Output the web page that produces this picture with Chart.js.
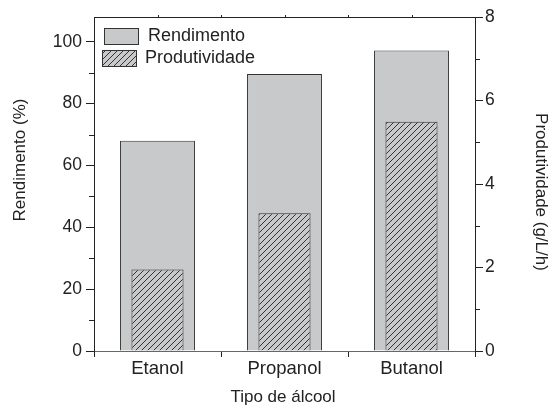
<!DOCTYPE html>
<html>
<head>
<meta charset="utf-8">
<script src="https://cdn.jsdelivr.net/npm/chart.js@4.4.0/dist/chart.umd.min.js"></script>
<style>
  html, body { margin: 0; padding: 0; background: #fff; }
  #wrap { width: 552px; height: 407px; }
</style>
</head>
<body>
<div id="wrap"><canvas id="barChart" width="552" height="407"></canvas></div>
<script>
// data
const categories = ['Etanol', 'Propanol', 'Butanol'];
const rendimento = [68, 89.6, 97.2];       // %
const produtividade = [1.95, 3.3, 5.49];  // g/L/h
const leftTicksMinor = [10, 30, 50, 70, 90];
const rightTicksMinor = [1, 3, 5, 7];

const FONT = '"Liberation Sans", Arial, sans-serif';
const INK = '#222';
const GRAY = '#c8c9cb';

// diagonal hatch pattern
function makeHatch() {
    const c = document.createElement('canvas');
    c.width = 6; c.height = 6;
    const g = c.getContext('2d');
    g.fillStyle = GRAY;
    g.fillRect(0, 0, 6, 6);
    g.strokeStyle = '#333';
    g.lineWidth = 1;
    g.beginPath();
    g.moveTo(0, 6); g.lineTo(6, 0);
    g.moveTo(-1, 1); g.lineTo(1, -1);
    g.moveTo(5, 7); g.lineTo(7, 5);
    g.stroke();
    return g.createPattern(c, 'repeat');
}
const hatch = makeHatch();

// frame, minor ticks, titles, legend
const extras = {
    id: 'extras',
    afterDraw(chart) {
        const ctx = chart.ctx;
        const a = chart.chartArea;
        const y = chart.scales.y, y1 = chart.scales.y1;
        ctx.save();
        ctx.strokeStyle = INK;
        ctx.lineWidth = 1;
        ctx.beginPath();
        ctx.moveTo(a.left, a.top + 0.5); ctx.lineTo(a.right, a.top + 0.5);
        // top ticks at half categories
        const step = (a.right - a.left) / (categories.length * 2);
        for (let i = 1; i < categories.length * 2; i++) {
            const px = Math.round(a.left + i * step) + 0.5;
            ctx.moveTo(px, a.top); ctx.lineTo(px, a.top - 2);
        }
        leftTicksMinor.forEach(v => {
            const py = Math.round(y.getPixelForValue(v)) + 0.5;
            ctx.moveTo(a.left, py); ctx.lineTo(a.left - 5, py);
        });
        rightTicksMinor.forEach(v => {
            const py = Math.round(y1.getPixelForValue(v)) + 0.5;
            ctx.moveTo(a.right, py); ctx.lineTo(a.right + 5, py);
        });
        ctx.stroke();

        // axis titles
        ctx.fillStyle = INK;
        ctx.font = '17px ' + FONT;
        ctx.textAlign = 'center';
        ctx.textBaseline = 'middle';
        ctx.fillText('Tipo de álcool', 283, 397);
        ctx.save();
        ctx.translate(20, 160); ctx.rotate(-Math.PI / 2);
        ctx.fillText('Rendimento (%)', 0, 0);
        ctx.restore();
        ctx.save();
        ctx.translate(541, 192); ctx.rotate(Math.PI / 2);
        ctx.fillText('Produtividade (g/L/h)', 0, 0);
        ctx.restore();

        // legend
        const ds = chart.data.datasets;
        const items = [
            { d: ds[0], bx: 104, by: 28, tx: 148, ty: 36 },
            { d: ds[1], bx: 102, by: 50, tx: 145, ty: 58 }
        ];
        ctx.font = '18px ' + FONT;
        ctx.textAlign = 'left';
        items.forEach(it => {
            ctx.fillStyle = it.d.backgroundColor;
            ctx.fillRect(it.bx, it.by, 34, 16);
            ctx.strokeStyle = '#333';
            ctx.strokeRect(it.bx + 0.5, it.by + 0.5, 34, 16);
            ctx.fillStyle = INK;
            ctx.fillText(it.d.label, it.tx, it.ty);
        });
        ctx.restore();
    }
};

const cfg = {
    type: 'bar',
    data: {
        labels: categories,
        datasets: [
            {
                label: 'Rendimento',
                data: rendimento,
                yAxisID: 'y',
                backgroundColor: GRAY,
                borderColor: '#333',
                borderWidth: 1,
                grouped: false,
                barPercentage: 0.59,
                categoryPercentage: 1,
                order: 2
            },
            {
                label: 'Produtividade',
                data: produtividade,
                yAxisID: 'y1',
                backgroundColor: hatch,
                borderColor: '#333',
                borderWidth: 1,
                grouped: false,
                barPercentage: 0.41,
                categoryPercentage: 1,
                order: 1
            }
        ]
    },
    options: {
        responsive: false,
        animation: false,
        layout: { padding: { top: 17 } },
        plugins: {
            legend: { display: false },
            tooltip: { enabled: false }
        },
        scales: {
            x: {
                offset: true,
                afterFit: s => { s.height = 56; },
                border: { color: '#666', width: 1 },
                grid: { drawOnChartArea: false, offset: true, tickLength: 6, color: INK },
                ticks: { color: INK, font: { family: FONT, size: 18.5 }, padding: 1, maxRotation: 0 }
            },
            y: {
                position: 'left',
                min: 0, max: 108,
                afterFit: s => { s.width = 94; },
                border: { color: INK, width: 1 },
                grid: { drawOnChartArea: false, tickLength: 8, color: INK },
                ticks: { stepSize: 20, includeBounds: false, color: INK, font: { family: FONT, size: 17.5 }, padding: 4 }
            },
            y1: {
                position: 'right',
                min: 0, max: 8,
                afterFit: s => { s.width = 77; },
                border: { color: INK, width: 1 },
                grid: { drawOnChartArea: false, tickLength: 8, color: INK },
                ticks: { stepSize: 2, color: INK, font: { family: FONT, size: 17.5 }, padding: 2 }
            }
        }
    },
    plugins: [extras]
};

new Chart(document.getElementById('barChart'), cfg);
</script>
</body>
</html>
